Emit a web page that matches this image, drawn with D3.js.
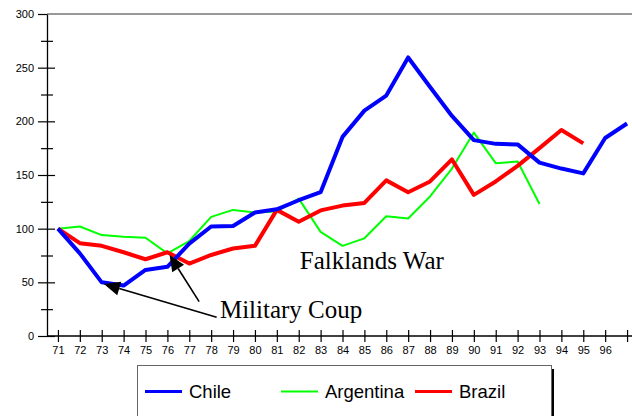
<!DOCTYPE html>
<html><head><meta charset="utf-8">
<script src="https://cdn.jsdelivr.net/npm/d3@7"></script>
<style>
html,body{margin:0;padding:0;background:#fff;overflow:hidden}
svg{display:block}
</style></head>
<body>
<svg id="c" width="632" height="416"></svg>
<script>
const years = [71,72,73,74,75,76,77,78,79,80,81,82,83,84,85,86,87,88,89,90,91,92,93,94,95,96,97];
const tickYears = [71,72,73,74,75,76,77,78,79,80,81,82,83,84,85,86,87,88,89,90,91,92,93,94,95,96,97];
const tickLabels = ["71","72","73","74","75","76","77","78","79","80","81","82","83","84","85","86","87","88","89","90","91","92","93","94","95","96",""];
const chile = [100,77,50,47,61.5,64.5,86,102,102.5,115,118,126.5,134,185.5,210,224,259.5,232,205,182.5,179,178.5,161.5,156,151.5,184.5,198];
const argentina = [100,102,94,92.5,91.5,77,88.5,111,117.5,115,116,128,97,84,91,111.5,109.5,130,156,189.5,161,162.5,123];
const brazil = [100,86.5,84,78,71.5,78,67.5,75.5,81.5,84,117.5,106.5,117,121.5,124,145,134,144,164.5,131.5,144,158.5,175,192,179.5];
const yTicks = [0,25,50,75,100,125,150,175,200,225,250,275,300];
const yLabels = ["0","","50","","100","","150","","200","","250","","300"];
const seriesNames = ["Chile","Argentina","Brazil"];
const seriesColors = ["#0000ff","#00ff00","#ff0000"];
const seriesWidths = [4,2,4];
const annotations = [
  {text:"Falklands War", x:82.05, y:62},
  {text:"Military Coup", x:78.4, y:17}
];
const arrows = [
  {from:[77.45,32], to:[76.1,75.5]},
  {from:[78.25,17.4], to:[73.1,48.5]}
];

const svg = d3.select("#c");
const x = d3.scaleLinear().domain([70.5,97.5]).range([47,638]);
const y = d3.scaleLinear().domain([0,300]).range([336,14]);

// top frame line
svg.append("line").attr("x1",47).attr("x2",632).attr("y1",y(300)).attr("y2",y(300))
  .attr("stroke","#333").attr("stroke-width",1.2);

// x axis
const xAxis = svg.append("g").attr("transform",`translate(0,${y(0)})`)
  .call(d3.axisBottom(x).tickValues(tickYears).tickSize(6).tickSizeOuter(0)
    .tickFormat((d,i)=>tickLabels[i]));
xAxis.select(".domain").attr("stroke","#000").attr("stroke-width",1.3).attr("d",`M47,0H632`);
xAxis.selectAll(".tick line").attr("y1",-6).attr("y2",6).attr("stroke","#000").attr("stroke-width",1.2);
xAxis.selectAll(".tick text").attr("y",10).attr("font-family","Liberation Sans, Arial, sans-serif").attr("font-size",11).attr("fill","#000");

// y axis
const yAxis = svg.append("g").attr("transform",`translate(47,0)`)
  .call(d3.axisLeft(y).tickValues(yTicks).tickSize(8).tickSizeOuter(0)
    .tickFormat((d,i)=>yLabels[i]));
yAxis.select(".domain").attr("stroke","#000").attr("stroke-width",1.3);
yAxis.selectAll(".tick line")
  .attr("x1",d=>d===300?0:(d%50===0?8:6))
  .attr("x2",d=>d%50===0?-9:-6)
  .attr("stroke","#000").attr("stroke-width",1.2);
yAxis.selectAll(".tick text").attr("x",-13).attr("font-family","Liberation Sans, Arial, sans-serif").attr("font-size",11).attr("fill","#000");

// lines
const line = d3.line().x((d,i)=>x(years[i])).y(d=>y(d)).curve(d3.curveLinear);
const data = [chile,argentina,brazil];
[1,2,0].forEach(k=>{
  svg.append("path").datum(data[k]).attr("d",line)
    .attr("fill","none").attr("stroke",seriesColors[k]).attr("stroke-width",seriesWidths[k])
    .attr("stroke-linejoin","round");
});

// arrows
arrows.forEach(a=>{
  const x1 = x(a.from[0]), y1 = y(a.from[1]), x2 = x(a.to[0]), y2 = y(a.to[1]);
  const dx = x2-x1, dy = y2-y1, L = Math.hypot(dx,dy), ux = dx/L, uy = dy/L;
  const hl = 16, hw = 7;
  const bx = x2-ux*hl, by = y2-uy*hl;
  svg.append("line").attr("x1",x1).attr("y1",y1).attr("x2",bx).attr("y2",by)
    .attr("stroke","#000").attr("stroke-width",1.6);
  svg.append("path")
    .attr("d",`M${x2},${y2}L${bx-uy*hw},${by+ux*hw}L${bx+uy*hw},${by-ux*hw}Z`)
    .attr("fill","#000");
});

// annotations
annotations.forEach(a=>{
  svg.append("text").attr("x",x(a.x)).attr("y",y(a.y)).text(a.text)
    .attr("font-family","Liberation Serif, Times New Roman, serif").attr("font-size",25).attr("fill","#000");
});

// legend
const lg = svg.append("g");
lg.append("rect").attr("x",140).attr("y",369).attr("width",414).attr("height",60).attr("fill","#000");
lg.append("rect").attr("x",137.5).attr("y",365.5).attr("width",414).attr("height",60)
  .attr("fill","#fff").attr("stroke","#666").attr("stroke-width",1);
const legX = [145,281,415];
seriesNames.forEach((n,i)=>{
  lg.append("line").attr("x1",legX[i]).attr("x2",legX[i]+37).attr("y1",391.5).attr("y2",391.5)
    .attr("stroke",seriesColors[i]).attr("stroke-width",i===1?2:3);
  lg.append("text").attr("x",legX[i]+44).attr("y",397.5).text(n)
    .attr("font-family","Liberation Sans, Arial, sans-serif").attr("font-size",18.5).attr("fill","#000");
});
</script>
</body></html>
